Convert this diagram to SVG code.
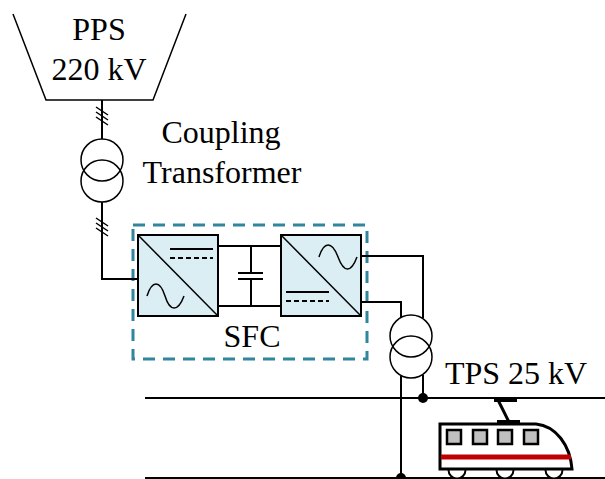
<svg xmlns="http://www.w3.org/2000/svg" width="605" height="479" viewBox="0 0 605 479">
<style>
.ln{fill:none;stroke:#000;stroke-width:2}
.th{fill:none;stroke:#000;stroke-width:1.5}
.txt{font-family:"Liberation Serif","Times New Roman",serif;font-size:32px;fill:#000}
.conv{fill:#dbeef4;stroke:#000;stroke-width:2}
.dot{fill:#000}
</style>
<rect width="605" height="479" fill="#fff"/>
<g id="pps">
<path d="M13,14 L46,100 L153,100 L186,14" class="th"/>
<text class="txt" x="99" y="40" text-anchor="middle">PPS</text>
<text class="txt" x="99" y="80" text-anchor="middle">220 kV</text>
</g>
<g id="coupling-transformer">
<circle cx="102" cy="160" r="21" class="th"/>
<circle cx="102" cy="181" r="21" class="th"/>
<text class="txt" x="221" y="143" text-anchor="middle">Coupling</text>
<text class="txt" x="222" y="183" text-anchor="middle">Transformer</text>
</g>
<g id="sfc">
<rect x="133" y="225" width="234" height="134" fill="none" stroke="#31859c" stroke-width="3" stroke-dasharray="12,8"/>
<text class="txt" x="252" y="347" text-anchor="middle">SFC</text>
</g>
<g id="rectifier">
<rect x="138" y="235" width="80" height="81" class="conv"/>
<line x1="138" y1="235" x2="218" y2="316" class="th"/>
<line x1="170" y1="249" x2="213" y2="249" class="ln"/>
<line x1="170" y1="258" x2="213" y2="258" class="ln" stroke-dasharray="5,3"/>
<path d="M147,296 C152,280 160,280 165,296 S178,312 184,296" class="th"/>
</g>
<g id="dc-link">
<line x1="218" y1="246" x2="281" y2="246" class="ln"/>
<line x1="218" y1="306" x2="281" y2="306" class="ln"/>
<line x1="251" y1="246" x2="251" y2="273" class="ln"/>
<line x1="251" y1="279" x2="251" y2="306" class="ln"/>
<line x1="238" y1="273" x2="263" y2="273" class="ln"/>
<line x1="238" y1="279" x2="263" y2="279" class="ln"/>
</g>
<g id="inverter">
<rect x="281" y="235" width="80" height="81" class="conv"/>
<line x1="281" y1="235" x2="361" y2="316" class="th"/>
<path d="M319,257 C324,241 332,241 338,257 S351,273 357,257" class="th"/>
<line x1="286" y1="292" x2="329" y2="292" class="ln"/>
<line x1="286" y1="301" x2="329" y2="301" class="ln" stroke-dasharray="5,3"/>
</g>
<g id="traction-transformer">
<circle cx="411" cy="336" r="21" class="th"/>
<circle cx="411" cy="357" r="21" class="th"/>
<text class="txt" x="516" y="384" text-anchor="middle">TPS 25 kV</text>
</g>
<g id="connectors">
<line x1="102" y1="100" x2="102" y2="139" class="ln"/>
<path d="M96,107 L108,115 M96,112 L108,120 M96,117 L108,125" class="th"/>
<path d="M102,202 L102,279 L138,279" class="ln"/>
<path d="M96,218 L108,226 M96,223 L108,231 M96,228 L108,236" class="th"/>
<path d="M361,256 L423,256 L423,318" class="ln"/>
<path d="M361,302 L401,302 L401,317" class="ln"/>
<path d="M423,375 L423,398" class="ln"/>
<path d="M401,376 L401,478" class="ln"/>
<line x1="145" y1="398" x2="605" y2="398" class="ln"/>
<line x1="145" y1="478" x2="605" y2="478" class="ln"/>
<circle cx="423" cy="398" r="5" class="dot"/>
<circle cx="401" cy="478" r="5" class="dot"/>
</g>
<g id="train">
<line x1="494" y1="400" x2="517" y2="400" stroke="#000" stroke-width="4"/>
<line x1="498" y1="400" x2="509" y2="422" stroke="#000" stroke-width="3"/>
<line x1="497" y1="422" x2="520" y2="422" stroke="#000" stroke-width="4"/>
<circle cx="457" cy="470" r="8.5" fill="#fff" stroke="#000" stroke-width="2"/>
<circle cx="505" cy="470" r="8.5" fill="#fff" stroke="#000" stroke-width="2"/>
<circle cx="554" cy="470" r="8.5" fill="#fff" stroke="#000" stroke-width="2"/>
<path d="M440,424 L536,424 C556,426 570,445 572,469 L440,469 Z" fill="#fff" stroke="#000" stroke-width="3"/>
<line x1="441" y1="457" x2="571" y2="457" stroke="#c00000" stroke-width="5"/>
<rect x="447" y="430" width="14" height="14" fill="#c0c0c0" stroke="#000" stroke-width="2.5"/>
<rect x="473" y="430" width="14" height="14" fill="#c0c0c0" stroke="#000" stroke-width="2.5"/>
<rect x="498" y="430" width="14" height="14" fill="#c0c0c0" stroke="#000" stroke-width="2.5"/>
<rect x="524" y="430" width="14" height="14" fill="#c0c0c0" stroke="#000" stroke-width="2.5"/>
</g>
</svg>
